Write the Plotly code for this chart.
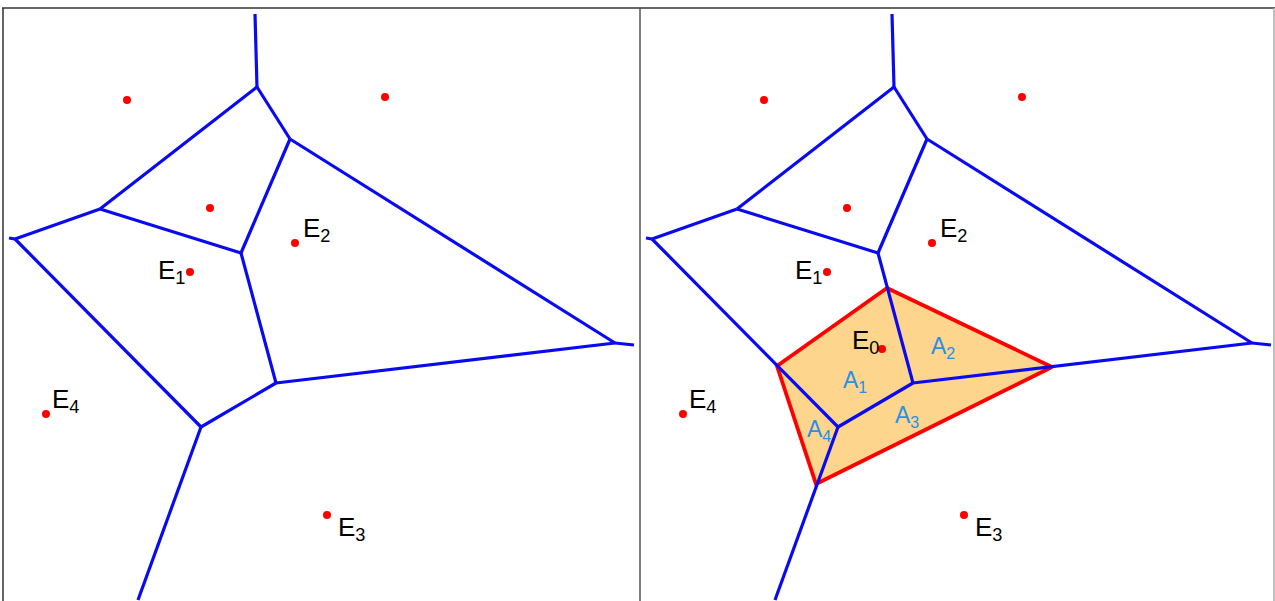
import plotly.graph_objects as go

# Panel-local pixel coordinates (x to the right, y downward)
site_x = [124, 382, 207, 292, 187, 43, 324]
site_y = [100, 97, 208, 243, 272, 414, 515]

# Voronoi vertices
vert = {
    "A": (252, 14), "B": (254, 87), "C": (287, 139), "D": (97, 209),
    "F": (12, 239), "Fs": (6, 238), "G": (238, 253), "H": (273, 383),
    "I": (612, 343), "Is": (631, 345), "J": (198, 427), "K": (135, 600),
}
edges = [("A", "B"), ("B", "C"), ("B", "D"), ("D", "F"), ("F", "Fs"),
         ("D", "G"), ("C", "G"), ("C", "I"), ("I", "Is"), ("G", "H"),
         ("H", "I"), ("H", "J"), ("F", "J"), ("J", "K")]

# New point E0 and its natural-neighbour region (right panel)
e0_x = [242]
e0_y = [349]
region_x = [247, 412, 176, 137, 247]
region_y = [288, 367, 484, 366, 288]

e_labels = ["E<sub>1</sub>", "E<sub>2</sub>", "E<sub>3</sub>", "E<sub>4</sub>"]
e_lab_x = [153, 298, 333, 47]
e_lab_y = [271, 229, 528, 400]
e0_label = "E<sub>0</sub>"
e0_lab_x, e0_lab_y = 210, 341
a_labels = ["A<sub>1</sub>", "A<sub>2</sub>", "A<sub>3</sub>", "A<sub>4</sub>"]
a_lab_x = [201, 289, 253, 165]
a_lab_y = [381, 347, 416, 430]

W, H = 1275, 601
BLUE = "#0a0af0"
FONT = "Liberation Sans Narrow, Arial Narrow, Liberation Sans, Arial"

ex, ey = [], []
for a, b in edges:
    ex += [vert[a][0], vert[b][0], None]
    ey += [vert[a][1], vert[b][1], None]

fig = go.Figure()
for xa in ["x", "x2"]:
    if xa == "x2":
        fig.add_trace(go.Scatter(x=region_x, y=region_y, xaxis=xa, yaxis="y",
                                 mode="lines", fill="toself", fillcolor="#fdd58c",
                                 line=dict(color="#ff0000", width=3.8),
                                 hoverinfo="skip", showlegend=False))
    fig.add_trace(go.Scatter(x=ex, y=ey, xaxis=xa, yaxis="y", mode="lines",
                             line=dict(color=BLUE, width=3.2),
                             hoverinfo="skip", showlegend=False))
    sx = site_x + (e0_x if xa == "x2" else [])
    sy = site_y + (e0_y if xa == "x2" else [])
    fig.add_trace(go.Scatter(x=sx, y=sy, xaxis=xa, yaxis="y", mode="markers",
                             marker=dict(color="#ff0000", size=8),
                             hoverinfo="skip", showlegend=False))
    for t, x, y in zip(e_labels, e_lab_x, e_lab_y):
        fig.add_annotation(text=t, x=x, y=y, xref=xa, yref="y",
                           xanchor="left", yanchor="middle", showarrow=False,
                           font=dict(family=FONT, size=26, color="#000000"))

fig.add_annotation(text=e0_label, x=e0_lab_x, y=e0_lab_y, xref="x2", yref="y",
                   xanchor="left", yanchor="middle", showarrow=False,
                   font=dict(family=FONT, size=26, color="#000000"))
for t, x, y in zip(a_labels, a_lab_x, a_lab_y):
    fig.add_annotation(text=t, x=x, y=y, xref="x2", yref="y",
                       xanchor="left", yanchor="middle", showarrow=False,
                       font=dict(family=FONT, size=23, color="#2a8fe6"))

def px(v):
    return v / W

def py(v):
    return 1 - v / H

# frame
fig.add_shape(type="line", xref="paper", yref="paper", x0=px(2), x1=px(1275),
              y0=py(8), y1=py(8), line=dict(color="#333333", width=1.5))
fig.add_shape(type="line", xref="paper", yref="paper", x0=px(3), x1=px(3),
              y0=py(8), y1=0, line=dict(color="#333333", width=1.5))
fig.add_shape(type="line", xref="paper", yref="paper", x0=px(640), x1=px(640),
              y0=py(8), y1=0, line=dict(color="#555555", width=1.5))
fig.add_shape(type="line", xref="paper", yref="paper", x0=px(1274), x1=px(1274),
              y0=py(8), y1=0, line=dict(color="#aaaaaa", width=1.5))

ax = dict(visible=False, showgrid=False, zeroline=False, fixedrange=True)
fig.update_layout(
    width=W, height=H,
    margin=dict(l=0, r=0, t=0, b=0),
    paper_bgcolor="white", plot_bgcolor="white",
    xaxis=dict(domain=[px(3), px(640)], range=[0, 637], anchor="y", **ax),
    xaxis2=dict(domain=[px(640), px(1274)], range=[0, 634], anchor="y", **ax),
    yaxis=dict(domain=[0, 1], range=[H, 0], anchor="x", **ax),
    showlegend=False,
)
fig.write_html("out.html", config={"displayModeBar": False},
               post_script="document.body.style.margin='0';"
                           "document.body.style.overflow='hidden';")
